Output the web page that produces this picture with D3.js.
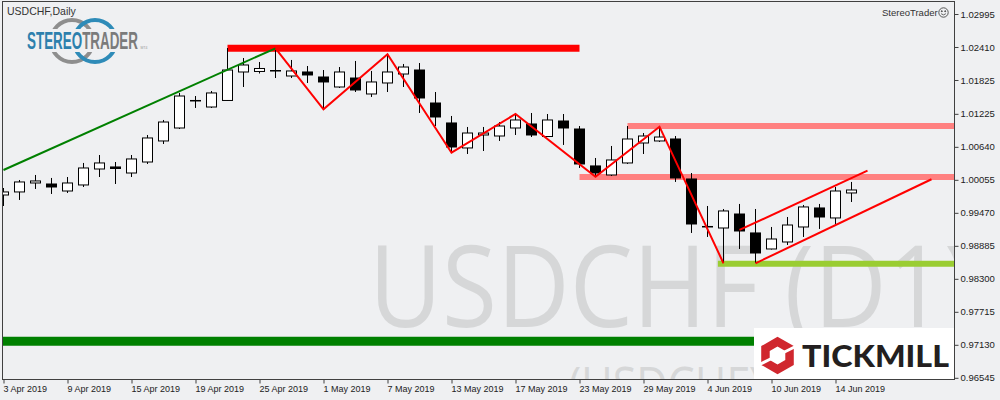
<!DOCTYPE html>
<html><head><meta charset="utf-8">
<script src="https://cdn.jsdelivr.net/npm/d3@7"></script>
<style>html,body{margin:0;padding:0;background:#eff0f2;}svg{display:block;}</style>
</head><body>
<svg id="c" width="1000" height="400"></svg>
<script>
// ---------- DATA ----------
const symbol = "USDCHF";
const timeframe = "Daily";
const dates = ["2019-04-03","2019-04-04","2019-04-05","2019-04-08","2019-04-09","2019-04-10","2019-04-11","2019-04-12",
"2019-04-15","2019-04-16","2019-04-17","2019-04-18","2019-04-19","2019-04-22","2019-04-23","2019-04-24","2019-04-25",
"2019-04-26","2019-04-29","2019-04-30","2019-05-01","2019-05-02","2019-05-03","2019-05-06","2019-05-07","2019-05-08",
"2019-05-09","2019-05-10","2019-05-13","2019-05-14","2019-05-15","2019-05-16","2019-05-17","2019-05-20","2019-05-21",
"2019-05-22","2019-05-23","2019-05-24","2019-05-27","2019-05-28","2019-05-29","2019-05-30","2019-05-31","2019-06-03",
"2019-06-04","2019-06-05","2019-06-06","2019-06-07","2019-06-10","2019-06-11","2019-06-12","2019-06-13","2019-06-14","2019-06-17"];
const open  = [0.99786,0.99840,0.99999,0.99981,0.99857,0.99964,1.00247,1.00283,1.00176,1.00371,1.00744,1.00974,1.01453,1.01346,
1.01462,1.01967,1.01976,1.01993,1.01896,1.01967,1.01878,1.01701,1.01860,1.01577,1.01772,1.01931,1.02002,1.01417,1.01063,
1.00620,1.00850,1.00832,1.00974,1.01045,1.00823,1.01098,1.00956,1.00301,1.00141,1.00354,1.00708,1.00744,1.00779,1.00070,
0.99228,0.99201,0.99449,0.99113,0.98829,0.98953,0.99219,0.99556,0.99379,0.99822];
const high  = [0.99910,1.00052,1.00141,1.00088,1.00105,1.00354,1.00495,1.00371,1.00495,1.00850,1.01116,1.01595,1.01541,1.01630,
1.02392,1.02215,1.02144,1.02383,1.02180,1.02073,1.02002,1.02055,1.02162,1.01985,1.02286,1.02109,1.02126,1.01612,1.01187,
1.00992,1.00992,1.01080,1.01222,1.01240,1.01222,1.01222,1.01009,1.00442,1.00655,1.01009,1.00885,1.00992,1.00832,1.00176,
0.99591,0.99538,0.99627,0.99538,0.99219,0.99396,0.99609,0.99627,0.99928,1.00017];
const low   = [0.99591,0.99698,0.99893,0.99804,0.99822,0.99928,1.00105,0.99981,1.00105,1.00336,1.00690,1.00956,1.01329,1.01329,
1.01453,1.01701,1.01940,1.01860,1.01860,1.01772,1.01293,1.01683,1.01612,1.01524,1.01612,1.01701,1.01240,1.01009,1.00549,
1.00513,1.00566,1.00744,1.00850,1.00814,1.00814,1.00673,1.00265,1.00105,1.00123,1.00336,1.00513,1.00726,1.00017,0.99113,
0.99042,0.98581,0.98829,0.98581,0.98820,0.98900,0.99042,0.99184,0.99272,0.99662];
const close = [0.99840,1.00017,1.00035,0.99928,0.99999,1.00265,1.00354,1.00256,1.00425,1.00797,1.01080,1.01541,1.01462,1.01595,
1.02002,1.02091,1.02029,1.01985,1.01985,1.01914,1.01790,1.01967,1.01648,1.01790,1.01967,1.02055,1.01506,1.01169,1.00637,
1.00885,1.00885,1.01009,1.01116,1.00850,1.01116,1.00974,1.00336,1.00176,1.00407,1.00779,1.00832,1.00814,1.00088,0.99272,
0.99219,0.99503,0.99148,0.98758,0.99006,0.99254,0.99574,0.99396,0.99857,0.99875];
const priceTicks = [1.02995,1.02410,1.01825,1.01225,1.00640,1.00055,0.99470,0.98885,0.98300,0.97715,0.97130,0.96545];
const dateTickStep = 4;
// horizontal levels: price, start bar, end bar
const levelPrices = [1.02387, 1.01009, 1.00105, 0.98568, 0.97193];
const levelFrom   = [14, 39, 36, 44.65, -2];
const levelTo     = [36, 62, 62, 62, 62];
// trend line
const trendBars = [0, 17];
const trendPrices = [1.00229, 1.02387];
// zigzag
const zigBars = [17, 20, 24, 28, 32, 37, 41, 45];
const zigPrices = [1.02387, 1.01305, 1.02281, 1.00536, 1.01222, 1.00111, 1.00997, 0.98575];
// channel
const chanUpperBars = [46, 54];
const chanUpperPrices = [0.99166, 1.00217];
const chanLowerBars = [47, 58];
const chanLowerPrices = [0.98575, 1.00065];
const watermark1 = "USDCHF (D1)";
const watermark2 = "(USDCHF)";

// ---------- DRAW ----------
const svg = d3.select("#c");
const BG = "#eff0f2";
svg.append("rect").attr("width",1000).attr("height",400).attr("fill",BG);

const L = 3, R = 954, T = 2, B = 379;
const x = d3.scaleLinear().domain([0, 59]).range([3.5, 3.5 + 16*59]);
const y = d3.scaleLinear().domain([0.96545, 1.02995]).range([377.8, 14]);
const parse = d3.timeParse("%Y-%m-%d");
const fmt = d3.timeFormat("%-d %b %Y");

svg.append("clipPath").attr("id","pc").append("rect").attr("x",L).attr("y",T).attr("width",R-L).attr("height",B-T);
const g = svg.append("g").attr("clip-path","url(#pc)");

// watermark
const wm1 = g.append("text").text(watermark1).attr("font-family","'Open Sans', sans-serif")
  .attr("font-size",114).attr("fill","#d6d7d8");
let w10 = 0; try { w10 = wm1.node().getSubStringLength(0,10); } catch(e) { w10 = 575; }
const sx = w10 > 0 ? 575 / w10 : 1;
wm1.attr("transform", `translate(369,327.3) scale(${sx},1)`);
const wm2 = g.append("text").text(watermark2).attr("font-family","'Open Sans', sans-serif")
  .attr("font-size",49).attr("fill","#d6d7d8");
wm2.attr("transform", `translate(568.6,401.5) scale(${sx},1)`);

// levels
const levelStyle = [
  {c:"#ff0000", w:7},
  {c:"#ff8080", w:6},
  {c:"#ff8080", w:6},
  {c:"#9acd32", w:6},
  {c:"#008000", w:9}
];
levelPrices.forEach((p,i)=>{
  g.append("line").attr("x1",x(levelFrom[i])).attr("x2",x(levelTo[i]))
   .attr("y1",y(p)).attr("y2",y(p))
   .attr("stroke",levelStyle[i].c).attr("stroke-width",levelStyle[i].w);
});

// candles
const candles = dates.map((d,i)=>({i,o:open[i],h:high[i],l:low[i],c:close[i]}));
const cg = g.append("g");
cg.selectAll("line.wick").data(candles).join("line").attr("class","wick")
  .attr("x1",d=>x(d.i)).attr("x2",d=>x(d.i))
  .attr("y1",d=>y(d.h)).attr("y2",d=>y(d.l))
  .attr("stroke","#000").attr("stroke-width",1);
cg.selectAll("rect.body").data(candles).join("rect").attr("class","body")
  .attr("x",d=>x(d.i)-5).attr("width",10)
  .attr("y",d=>y(Math.max(d.o,d.c)))
  .attr("height",d=>Math.max(0.5, Math.abs(y(d.o)-y(d.c))))
  .attr("fill",d=>d.c>=d.o?"#ffffff":"#000000")
  .attr("stroke","#000").attr("stroke-width",1);

// lines
const line = d3.line().x(d=>x(d[0])).y(d=>y(d[1]));
g.append("path").attr("d",line(d3.zip(trendBars,trendPrices))).attr("fill","none")
  .attr("stroke","#008000").attr("stroke-width",2);
g.append("path").attr("d",line(d3.zip(zigBars,zigPrices))).attr("fill","none")
  .attr("stroke","#ff0000").attr("stroke-width",2).attr("stroke-linejoin","miter");
g.append("path").attr("d",line(d3.zip(chanUpperBars,chanUpperPrices))).attr("fill","none")
  .attr("stroke","#ff0000").attr("stroke-width",2);
g.append("path").attr("d",line(d3.zip(chanLowerBars,chanLowerPrices))).attr("fill","none")
  .attr("stroke","#ff0000").attr("stroke-width",2);

// Tickmill box
const tk = svg.append("g");
tk.append("rect").attr("x",754).attr("y",328).attr("width",200).attr("height",51).attr("fill","#ffffff");
(function(){
  const cx=777.5, cy=355.5, ro=18.8, ri=9;
  const hex = r => d3.range(6).map(k=>{const a=Math.PI/180*(60*k-90);return [cx+r*Math.cos(a), cy+r*Math.sin(a)];});
  const p = h => "M"+h.map(q=>q.join(",")).join("L")+"Z";
  tk.append("path").attr("d",p(hex(ro))+p(hex(ri))).attr("fill","#d0272e").attr("fill-rule","evenodd");
  tk.append("line").attr("x1",cx+6).attr("y1",cy-3).attr("x2",cx+20).attr("y2",cy-10)
    .attr("stroke","#fff").attr("stroke-width",3);
  tk.append("line").attr("x1",cx-6).attr("y1",cy+3).attr("x2",cx-20).attr("y2",cy+10)
    .attr("stroke","#fff").attr("stroke-width",3);
})();
tk.append("text").text("TICKMILL").attr("x",802).attr("y",366.7)
  .attr("font-family","Lato, 'Open Sans', sans-serif").attr("font-weight",900).attr("font-size",30)
  .attr("fill","#231f20").attr("textLength",147).attr("lengthAdjust","spacingAndGlyphs");

// border
svg.append("rect").attr("x",2.5).attr("y",1.5).attr("width",952).attr("height",378)
  .attr("fill","none").attr("stroke","#404040").attr("stroke-width",1);

// axes
const yAxis = d3.axisRight(y).tickValues(priceTicks).tickFormat(d3.format(".5f")).tickSize(4).tickPadding(2);
const ya = svg.append("g").attr("transform","translate(954.5,0)").call(yAxis);
ya.select(".domain").remove();
ya.selectAll("line").attr("stroke","#404040");
ya.selectAll("text").attr("font-family","'Liberation Sans', Arial, sans-serif").attr("font-size",9.5).attr("fill","#222");

const xAxis = d3.axisBottom(x).tickValues(d3.range(0, dates.length, dateTickStep))
  .tickFormat(i=>fmt(parse(dates[i]))).tickSize(4).tickPadding(2);
const xa = svg.append("g").attr("transform","translate(0,379.5)").call(xAxis);
xa.select(".domain").remove();
xa.selectAll("line").attr("stroke","#404040");
xa.selectAll("text").attr("text-anchor","start").attr("x",-0.5)
  .attr("font-family","'Liberation Sans', Arial, sans-serif").attr("font-size",9).attr("fill","#222");

// title
svg.append("text").text(symbol+","+timeframe).attr("x",7).attr("y",15)
  .attr("font-family","'Liberation Sans', Arial, sans-serif").attr("font-size",10.5).attr("fill","#333");

// StereoTrader top-right
svg.append("text").text("StereoTrader").attr("x",882).attr("y",15.5)
  .attr("font-family","'Liberation Sans', Arial, sans-serif").attr("font-size",9.5).attr("fill","#333");
const sm = svg.append("g").attr("transform","translate(943.5,12.5)").attr("fill","none").attr("stroke","#444");
sm.append("circle").attr("r",4.7).attr("stroke-width",0.9);
sm.append("circle").attr("cx",-1.7).attr("cy",-1.3).attr("r",0.5).attr("fill","#444");
sm.append("circle").attr("cx",1.7).attr("cy",-1.3).attr("r",0.5).attr("fill","#444");
sm.append("path").attr("d","M-2.4,1.2 Q0,3.6 2.4,1.2").attr("stroke-width",0.8);

// StereoTrader logo top-left
const lg = svg.append("g");
lg.append("circle").attr("cx",72).attr("cy",41).attr("r",21).attr("fill","none").attr("stroke","#8e8e8e").attr("stroke-width",4);
lg.append("circle").attr("cx",95).attr("cy",41).attr("r",21).attr("fill","none").attr("stroke","#2e8bb8").attr("stroke-width",4);
lg.append("rect").attr("x",24).attr("y",29).attr("width",118).attr("height",23).attr("fill",BG);
const lt = lg.append("text").attr("x",27).attr("y",49).attr("font-family","'Liberation Sans Narrow','Arial Narrow','Liberation Sans',sans-serif")
  .attr("font-size",23.5).attr("font-weight",700).attr("textLength",111).attr("lengthAdjust","spacingAndGlyphs");
lt.append("tspan").text("STEREO").attr("fill","#2d80ad");
lt.append("tspan").text("TRADER").attr("fill","#7b7b7b");
lg.append("text").text("MT4").attr("x",140.5).attr("y",48.5).attr("font-family","'Liberation Sans', Arial, sans-serif")
  .attr("font-size",3.5).attr("fill","#999");
</script>
</body></html>
